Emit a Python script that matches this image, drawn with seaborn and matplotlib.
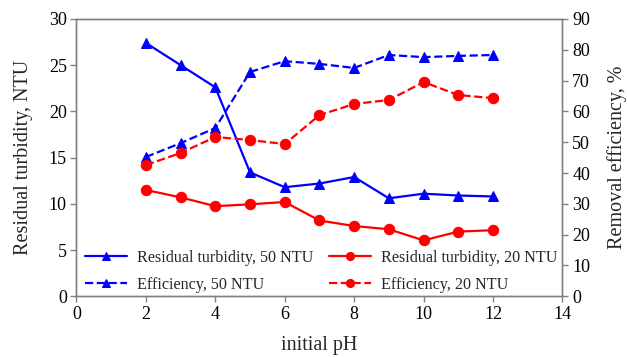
import matplotlib
matplotlib.use("Agg")
import matplotlib.pyplot as plt
import seaborn as sns
import pandas as pd

ph = [2, 3, 4, 5, 6, 7, 8, 9, 10, 11, 12]
turb_50 = [27.4, 25.0, 22.6, 13.4, 11.8, 12.2, 12.9, 10.6, 11.1, 10.9, 10.8]
turb_20 = [11.5, 10.7, 9.75, 9.95, 10.2, 8.2, 7.6, 7.25, 6.05, 7.0, 7.15]
eff_50 = [45.2, 49.7, 54.6, 72.8, 76.3, 75.4, 74.1, 78.3, 77.6, 78.0, 78.3]
eff_20 = [42.6, 46.5, 51.7, 50.7, 49.4, 58.8, 62.4, 63.7, 69.5, 65.3, 64.3]

sns.set_theme(style="white")
plt.rcParams['font.family'] = ['Liberation Serif', 'DejaVu Serif']

fig = plt.figure(figsize=(6.27, 3.57), dpi=100)
ax = fig.add_axes([0.122, 0.170, 0.775, 0.777])
ax2 = ax.twinx()

df = pd.DataFrame({"pH": ph, "t50": turb_50, "t20": turb_20, "e50": eff_50, "e20": eff_20})

blue = "#0000FF"
red = "#FF0000"
sns.lineplot(data=df, x="pH", y="t50", ax=ax, color=blue, marker="^", markersize=7.5,
             markeredgecolor=blue, linewidth=1.6, label="Residual turbidity, 50 NTU", legend=False)
sns.lineplot(data=df, x="pH", y="t20", ax=ax, color=red, marker="o", markersize=7.5,
             markeredgecolor=red, linewidth=1.6, label="Residual turbidity, 20 NTU", legend=False)
sns.lineplot(data=df, x="pH", y="e50", ax=ax2, color=blue, marker="^", markersize=7.5,
             markeredgecolor=blue, linewidth=1.6, linestyle="--", label="Efficiency, 50 NTU", legend=False)
sns.lineplot(data=df, x="pH", y="e20", ax=ax2, color=red, marker="o", markersize=7.5,
             markeredgecolor=red, linewidth=1.6, linestyle="--", label="Efficiency, 20 NTU", legend=False)

ax.set_xlim(0, 14)
ax.set_ylim(0, 30)
ax2.set_ylim(0, 90)
ax.set_xticks(range(0, 15, 2))
ax.set_yticks(range(0, 31, 5))
ax2.set_yticks(range(0, 91, 10))

ax.set_xlabel("initial pH", fontsize=14.5, labelpad=9.5)
ax.set_ylabel("Residual turbidity, NTU", fontsize=14.5, labelpad=11)
ax2.set_ylabel("Removal efficiency, %", fontsize=14.5, labelpad=12)

for a in (ax, ax2):
    for s in a.spines.values():
        s.set_color("#808080")
        s.set_linewidth(1.0)
    a.tick_params(axis="both", labelsize=13, colors="black", length=4, width=1,
                  direction="out", color="#808080", pad=3)
ax.tick_params(axis="x", bottom=True)
ax.tick_params(axis="y", left=True)
ax2.tick_params(axis="y", right=True)
ax.grid(False)
ax2.grid(False)

h1, lab1 = ax.get_legend_handles_labels()
h2, lab2 = ax2.get_legend_handles_labels()
handles = [h1[0], h2[0], h1[1], h2[1]]
labels = [lab1[0], lab2[0], lab1[1], lab2[1]]
ax2.legend(handles, labels, ncol=2, loc="lower left", bbox_to_anchor=(0.0, -0.018),
           frameon=False, fontsize=11.6, handlelength=2.6, handletextpad=0.62,
           columnspacing=1.0, labelspacing=0.68, borderaxespad=0.12, markerscale=0.78)

fig.savefig("out.png", dpi=100)
